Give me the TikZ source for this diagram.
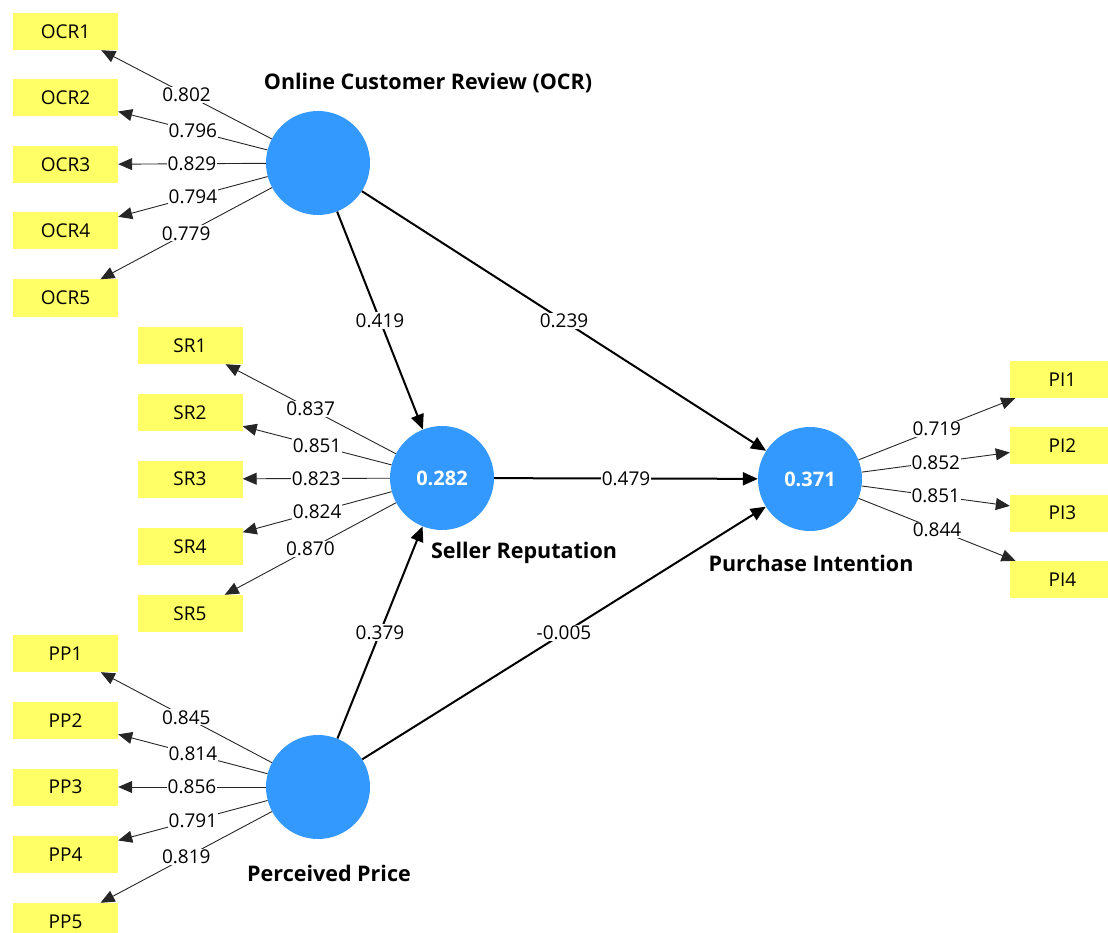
\documentclass[tikz,border=0pt]{standalone}
\usepackage{fontspec}
\setmainfont{Open Sans}
\usetikzlibrary{arrows.meta}
\definecolor{lvblue}{RGB}{51,153,255}
\definecolor{mvyellow}{RGB}{255,255,102}
\begin{document}
\begin{tikzpicture}[x=1pt,y=-1pt,
 lv/.style={circle,fill=lvblue,minimum size=104pt,inner sep=0pt,text=white,font=\fontsize{20}{22}\selectfont\bfseries},
 mv/.style={rectangle,fill=mvyellow,minimum width=105pt,minimum height=37pt,inner sep=0pt,font=\fontsize{19}{21}\selectfont},
 ld/.style={draw=black!85,line width=0.9pt,-{Triangle[length=14pt,width=12pt]}},
 pth/.style={draw=black,line width=2pt,-{Triangle[length=15pt,width=13pt]}},
 val/.style={fill=white,inner sep=1pt,font=\fontsize{19}{21}\selectfont},
 ttl/.style={font=\fontsize{21.5}{24}\selectfont\bfseries}]
\useasboundingbox (0,0) rectangle (1108,933);
\clip (0,0) rectangle (1108,933);
% latent variables
\node[lv] (OCR) at (318,163) {};
\node[lv] (SR) at (442,478) {0.282};
\node[lv] (PI) at (810,479) {0.371};
\node[lv] (PP) at (318,787) {};
% titles
\node[ttl] (tOCR) at (428,83) {Online Customer Review (OCR)};
\node[ttl] (tSR) at (524,553) {Seller Reputation};
\node[ttl] (tPI) at (811,563) {Purchase Intention};
\node[ttl] (tPP) at (329,873) {Perceived Price};
% indicators
\node[mv] (OCR1) at (65.5,31.5) {OCR1};
\node[mv] (OCR2) at (65.5,98) {OCR2};
\node[mv] (OCR3) at (65.5,164.5) {OCR3};
\node[mv] (OCR4) at (65.5,231) {OCR4};
\node[mv] (OCR5) at (65.5,298) {OCR5};
\node[mv] (SR1) at (190,345.5) {SR1};
\node[mv] (SR2) at (190,412.5) {SR2};
\node[mv] (SR3) at (190,479) {SR3};
\node[mv] (SR4) at (190,546.5) {SR4};
\node[mv] (SR5) at (190,613.5) {SR5};
\node[mv] (PP1) at (65.5,653.5) {PP1};
\node[mv] (PP2) at (65.5,720.5) {PP2};
\node[mv] (PP3) at (65.5,787) {PP3};
\node[mv] (PP4) at (65.5,854.5) {PP4};
\node[mv] (PP5) at (65.5,921.5) {PP5};
\node[mv] (PI1) at (1062.5,379.5) {PI1};
\node[mv] (PI2) at (1062.5,445.5) {PI2};
\node[mv] (PI3) at (1062.5,513) {PI3};
\node[mv] (PI4) at (1062.5,579.5) {PI4};
% loadings
\draw[ld] (OCR) -- node[val]{0.802} (OCR1);
\draw[ld] (OCR) -- node[val]{0.796} (OCR2);
\draw[ld] (OCR) -- node[val]{0.829} (OCR3);
\draw[ld] (OCR) -- node[val]{0.794} (OCR4);
\draw[ld] (OCR) -- node[val]{0.779} (OCR5);
\draw[ld] (SR) -- node[val]{0.837} (SR1);
\draw[ld] (SR) -- node[val]{0.851} (SR2);
\draw[ld] (SR) -- node[val]{0.823} (SR3);
\draw[ld] (SR) -- node[val]{0.824} (SR4);
\draw[ld] (SR) -- node[val]{0.870} (SR5);
\draw[ld] (PP) -- node[val]{0.845} (PP1);
\draw[ld] (PP) -- node[val]{0.814} (PP2);
\draw[ld] (PP) -- node[val]{0.856} (PP3);
\draw[ld] (PP) -- node[val]{0.791} (PP4);
\draw[ld] (PP) -- node[val]{0.819} (PP5);
\draw[ld] (PI) -- node[val]{0.719} (PI1);
\draw[ld] (PI) -- node[val]{0.852} (PI2);
\draw[ld] (PI) -- node[val]{0.851} (PI3);
\draw[ld] (PI) -- node[val]{0.844} (PI4);
% paths
\draw[pth] (OCR) -- node[val]{0.419} (SR);
\draw[pth] (OCR) -- node[val]{0.239} (PI);
\draw[pth] (SR) -- node[val]{0.479} (PI);
\draw[pth] (PP) -- node[val]{0.379} (SR);
\draw[pth] (PP) -- node[val]{-0.005} (PI);
\end{tikzpicture}
\end{document}
